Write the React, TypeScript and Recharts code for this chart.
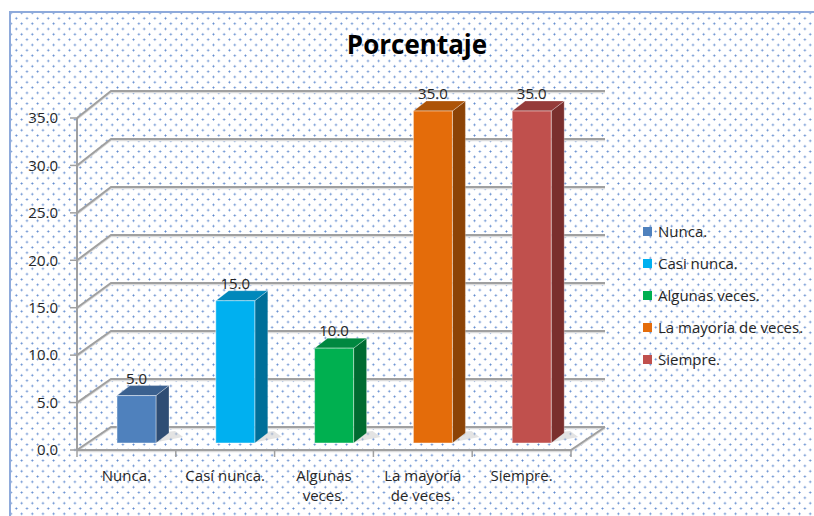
import { Bar, BarChart, CartesianGrid, Cell, LabelList, Legend, XAxis, YAxis } from "recharts";

const categories = ["Nunca.", "Casí nunca.", "Algunas veces.", "La mayoría de veces.", "Siempre."];
const tickLines = [["Nunca."], ["Casí nunca."], ["Algunas", "veces."], ["La mayoría", "de veces."], ["Siempre."]];
const legendLabels = ["Nunca.", "Casi nunca.", "Algunas veces.", "La mayoría de veces.", "Siempre."];
const values = [5.0, 15.0, 10.0, 35.0, 35.0];
const yTicks = [0, 5, 10, 15, 20, 25, 30, 35];

const frontColors = ["#4f81bd", "#00b0f0", "#00b050", "#e46c0a", "#c0504d"];
const sideColors = ["#2f4d74", "#006f99", "#006b31", "#8c4306", "#7a2f2d"];
const topColors = ["#3b6190", "#0088bb", "#008840", "#ad5408", "#953b39"];

const rows = categories.map((c, i) => ({ category: c, value: values[i] }));

const W = 814;
const H = 516;
const MARGIN = { top: 118, right: 243, bottom: 16, left: 17 };
const Y_AXIS_W = 60;
const X_AXIS_H = 50;
const PLOT_LEFT = MARGIN.left + Y_AXIS_W;
const PLOT_TOP = MARGIN.top;
const PLOT_BOTTOM = H - MARGIN.bottom - X_AXIS_H;
const PLOT_W = W - PLOT_LEFT - MARGIN.right;
const BAND = PLOT_W / categories.length;

// 3D offsets
const WALL_DX = 34;
const BAR_SHIFT_X = 10;
const BAR_SHIFT_Y = 7;
const BAR_DX = 13;
const BAR_DY = 10;

const FONT = "'Open Sans', sans-serif";
const GRID = "#a0a0a0";
const TEXT = "#262626";

function wallDy(y: number) {
  return 23 + (4 * (PLOT_BOTTOM - y)) / (PLOT_BOTTOM - PLOT_TOP);
}

function gridLine(p: any) {
  const { x1, x2, y1 } = p;
  const dy = wallDy(y1);
  const bx = x1 + WALL_DX;
  const ex = x2 + WALL_DX;
  const floor = Math.abs(y1 - PLOT_BOTTOM) < 1;
  return (
    <g key={`g-${y1}`}>
      <polyline points={`${x1},${y1 + 1.5} ${bx},${y1 - dy + 1.5} ${ex},${y1 - dy + 1.5}`} fill="none" stroke="#dcdcdc" strokeWidth={1.5} />
      <polyline points={`${x1},${y1} ${bx},${y1 - dy} ${ex},${y1 - dy}`} fill="none" stroke={GRID} strokeWidth={2} />
      {floor && (
        <>
          <polyline points={`${x1},${y1 + 1.5} ${x2},${y1 + 1.5} ${ex},${y1 - dy + 1.5}`} fill="none" stroke="#dcdcdc" strokeWidth={1.5} />
          <polyline points={`${x1},${y1} ${x2},${y1} ${ex},${y1 - dy}`} fill="none" stroke={GRID} strokeWidth={2} />
        </>
      )}
    </g>
  );
}

function Box3D(props: any) {
  const { x, y, width, height, payload } = props;
  const i = categories.indexOf(payload.category);
  const fx = x + BAR_SHIFT_X;
  const fy = y - BAR_SHIFT_Y;
  const r = fx + width;
  const b = fy + height;
  return (
    <g>
      <polygon
        points={`${r - 4},${b} ${r + BAR_DX + 14},${b - 6} ${r + BAR_DX + 6},${b - BAR_DY - 2} ${r},${b - BAR_DY}`}
        fill="#c8c8c8"
        opacity={0.5}
      />
      <polygon
        points={`${r},${fy} ${r + BAR_DX},${fy - BAR_DY} ${r + BAR_DX},${b - BAR_DY} ${r},${b}`}
        fill={sideColors[i]}
        stroke="#ffffff"
        strokeOpacity={0.35}
        strokeWidth={0.8}
      />
      <polygon
        points={`${fx},${fy} ${fx + BAR_DX},${fy - BAR_DY} ${r + BAR_DX},${fy - BAR_DY} ${r},${fy}`}
        fill={topColors[i]}
        stroke="#ffffff"
        strokeOpacity={0.35}
        strokeWidth={0.8}
      />
      <rect x={fx} y={fy} width={width} height={height} fill={frontColors[i]} stroke="#ffffff" strokeOpacity={0.45} strokeWidth={1} />
    </g>
  );
}

function BarLabel(props: any) {
  const { x, y, width, value } = props;
  return (
    <text
      x={x + BAR_SHIFT_X + width / 2}
      y={y - BAR_SHIFT_Y - 12}
      textAnchor="middle"
      fontSize={15}
      fontFamily={FONT}
      fill={TEXT}
    >
      {Number(value).toFixed(1)}
    </text>
  );
}

function XTick(props: any) {
  const { x, index } = props;
  const lines = tickLines[index] ?? [];
  const last = index === categories.length - 1;
  return (
    <g>
      <line x1={x - BAND / 2} y1={PLOT_BOTTOM} x2={x - BAND / 2} y2={PLOT_BOTTOM + 7} stroke={GRID} strokeWidth={1.5} />
      {last && <line x1={x + BAND / 2} y1={PLOT_BOTTOM} x2={x + BAND / 2} y2={PLOT_BOTTOM + 7} stroke={GRID} strokeWidth={1.5} />}
      {lines.map((l, k) => (
        <text key={l} x={x} y={PLOT_BOTTOM + 31 + k * 20} textAnchor="middle" fontSize={15} fontFamily={FONT} fill={TEXT}>
          {l}
        </text>
      ))}
    </g>
  );
}

function LegendBox() {
  return (
    <div style={{ fontFamily: FONT, fontSize: 15, color: TEXT }}>
      {legendLabels.map((l, i) => (
        <div key={l} style={{ display: "flex", alignItems: "center", height: 32, whiteSpace: "nowrap" }}>
          <span style={{ display: "inline-block", width: 9, height: 9, background: frontColors[i], marginRight: 6 }} />
          {l}
        </div>
      ))}
    </div>
  );
}

const dot = "radial-gradient(circle, #5a86cc 0.7px, rgba(255,255,255,0) 1.3px)";

export default function App() {
  return (
    <div style={{ position: "fixed", left: 0, top: 0, width: W, height: H, overflow: "hidden", background: "#ffffff" }}>
      <div
        style={{
          position: "absolute",
          left: 9,
          top: 11,
          width: W,
          height: H,
          borderTop: "2px solid #8eaadb",
          borderLeft: "2px solid #8eaadb",
          backgroundImage: `${dot}, ${dot}`,
          backgroundSize: "10.66px 10.66px",
          backgroundPosition: "0 0, 5.33px 5.33px",
        }}
      />
      <div
        style={{
          position: "absolute",
          left: 0,
          top: 26,
          width: 834,
          textAlign: "center",
          fontFamily: FONT,
          fontWeight: 700,
          fontSize: 26,
          color: "#000000",
        }}
      >
        Porcentaje
      </div>
      <div style={{ position: "absolute", left: 0, top: 0 }}>
        <BarChart width={W} height={H} data={rows} margin={MARGIN} barSize={39}>
          <CartesianGrid vertical={false} horizontal={gridLine} />
          <XAxis
            dataKey="category"
            height={X_AXIS_H}
            axisLine={false}
            tickLine={false}
            interval={0}
            tick={<XTick />}
          />
          <YAxis
            width={Y_AXIS_W}
            domain={[0, 35]}
            ticks={yTicks}
            tickFormatter={(v: number) => v.toFixed(1)}
            tick={{ fill: TEXT, fontSize: 15, fontFamily: FONT }}
            tickLine={{ stroke: GRID, strokeWidth: 1.5 }}
            tickSize={7}
            tickMargin={12}
            axisLine={{ stroke: GRID, strokeWidth: 2 }}
          />
          <Legend
            layout="vertical"
            align="center"
            verticalAlign="middle"
            content={<LegendBox />}
            wrapperStyle={{ left: 643, top: 215, width: 171 }}
          />
          <Bar dataKey="value" isAnimationActive={false} shape={<Box3D />}>
            {rows.map((r, i) => (
              <Cell key={r.category} fill={frontColors[i]} />
            ))}
            <LabelList dataKey="value" content={<BarLabel />} />
          </Bar>
        </BarChart>
      </div>
    </div>
  );
}
